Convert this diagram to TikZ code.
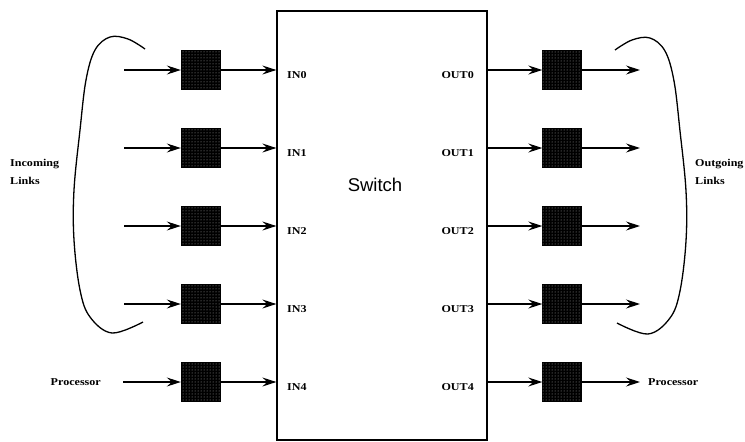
\documentclass[tikz,border=0pt]{standalone}
\usepackage{fontspec}
\newfontfamily\lblfont[FakeStretch=1.15]{Liberation Serif}
\newfontfamily\swfont{Liberation Sans}
\usetikzlibrary{arrows.meta,patterns}
\begin{document}
\begin{tikzpicture}[x=1pt,y=-1pt,
  buf/.style={draw, fill=black, minimum width=39pt, minimum height=39pt, inner sep=0pt, postaction={pattern=dots, pattern color=gray!70}},
  lbl/.style={font=\lblfont\bfseries\fontsize{10.5}{12}\selectfont, inner sep=0pt},
  link/.style={-{Stealth[length=14pt,width=9pt,inset=5pt]}, line width=1.1pt},
  brace/.style={line width=1.3pt}]
\useasboundingbox (0,0) rectangle (745,442);
\node[draw, line width=1.3pt, minimum width=210pt, minimum height=429pt, inner sep=0pt] (sw) at (382,225.5) {};
\node[font=\swfont\fontsize{18.5}{20}\selectfont, inner sep=0pt] (swl) at (375,185) {Switch};
\node[buf] (ib0) at (200.5,70) {};
\node[buf] (ib1) at (200.5,148) {};
\node[buf] (ib2) at (200.5,226) {};
\node[buf] (ib3) at (200.5,304) {};
\node[buf] (ib4) at (200.5,382) {};
\node[buf] (ob0) at (562,70) {};
\node[buf] (ob1) at (562,148) {};
\node[buf] (ob2) at (562,226) {};
\node[buf] (ob3) at (562,304) {};
\node[buf] (ob4) at (562,382) {};
\node[lbl, anchor=west] (in0) at (287,75) {IN0};
\node[lbl, anchor=west] (in1) at (287,153) {IN1};
\node[lbl, anchor=west] (in2) at (287,231) {IN2};
\node[lbl, anchor=west] (in3) at (287,309) {IN3};
\node[lbl, anchor=west] (in4) at (287,387) {IN4};
\node[lbl, anchor=east] (out0) at (474,75) {OUT0};
\node[lbl, anchor=east] (out1) at (474,153) {OUT1};
\node[lbl, anchor=east] (out2) at (474,231) {OUT2};
\node[lbl, anchor=east] (out3) at (474,309) {OUT3};
\node[lbl, anchor=east] (out4) at (474,387) {OUT4};
\node[lbl, anchor=base west] (inc) at (10,166) {Incoming};
\node[lbl, anchor=base west] (incl) at (10,184) {Links};
\node[lbl, anchor=base west] (outg) at (695,166) {Outgoing};
\node[lbl, anchor=base west] (outgl) at (695,184) {Links};
\node[lbl, anchor=east] (pin) at (101,382) {Processor};
\node[lbl, anchor=west] (pout) at (648,382) {Processor};
\coordinate (src0) at (124,70);
\coordinate (src1) at (124,148);
\coordinate (src2) at (124,226);
\coordinate (src3) at (124,304);
\coordinate (dst0) at (640,70);
\coordinate (dst1) at (640,148);
\coordinate (dst2) at (640,226);
\coordinate (dst3) at (640,304);
\draw[link] (src0) -- (ib0);
\draw[link] (src1) -- (ib1);
\draw[link] (src2) -- (ib2);
\draw[link] (src3) -- (ib3);
\draw[link] ([xshift=22pt]pin.east) -- (ib4);
\draw[link] (ib0) -- (ib0 -| sw.west);
\draw[link] (ib1) -- (ib1 -| sw.west);
\draw[link] (ib2) -- (ib2 -| sw.west);
\draw[link] (ib3) -- (ib3 -| sw.west);
\draw[link] (ib4) -- (ib4 -| sw.west);
\draw[link] (ob0 -| sw.east) -- (ob0);
\draw[link] (ob1 -| sw.east) -- (ob1);
\draw[link] (ob2 -| sw.east) -- (ob2);
\draw[link] (ob3 -| sw.east) -- (ob3);
\draw[link] (ob4 -| sw.east) -- (ob4);
\draw[link] (ob0) -- (dst0);
\draw[link] (ob1) -- (dst1);
\draw[link] (ob2) -- (dst2);
\draw[link] (ob3) -- (dst3);
\draw[link] (ob4) -- ([xshift=-8pt]pout.west);
% curved brackets round the links
\draw[brace] plot[smooth, tension=0.6] coordinates {(145,49) (128,39) (110,37) (95,50) (86,80) (80,130) (74,190) (74,240) (80,290) (90,317) (112,333) (143,322)};
\draw[brace] plot[smooth, tension=0.6] coordinates {(615,50) (632,40) (650,38) (665,51) (674,81) (680,131) (686,191) (686,241) (680,291) (670,318) (648,334) (617,323)};
\end{tikzpicture}
\end{document}
